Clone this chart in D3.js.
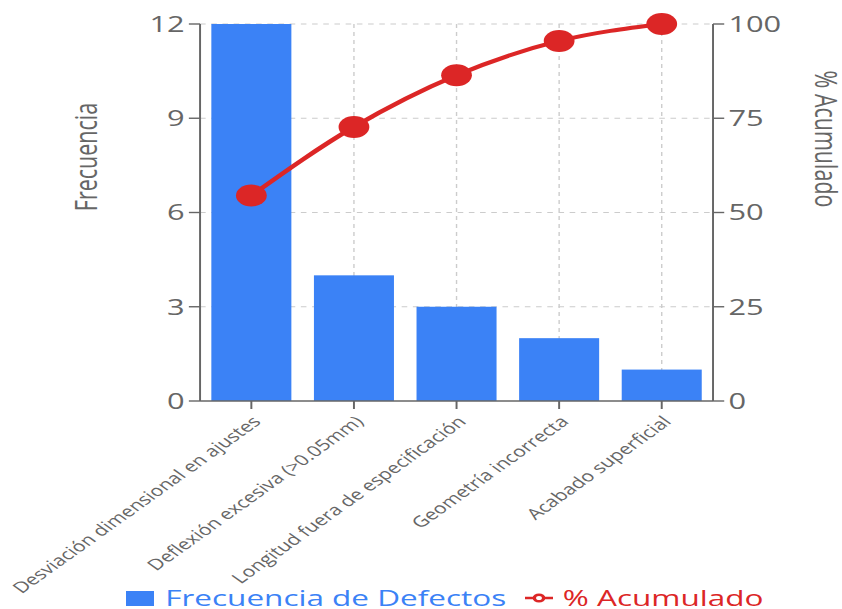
<!DOCTYPE html>
<html>
<head>
<meta charset="utf-8">
<script src="https://cdn.jsdelivr.net/npm/d3@7/dist/d3.min.js"></script>
<style>
  html, body { margin: 0; padding: 0; background: #fff; }
  svg { display: block; }
  text { font-family: "Open Sans", "Noto Sans", sans-serif; }
</style>
</head>
<body>
<svg id="chart" width="842" height="609"></svg>
<script>
// Pareto data: defect categories, their counts and the cumulative share
const categories = [
  "Desviación dimensional en ajustes",
  "Deflexión excesiva (>0.05mm)",
  "Longitud fuera de especificación",
  "Geometría incorrecta",
  "Acabado superficial"
];
const frequencies = [12, 4, 3, 2, 1];
const cumulativePct = [54.5, 72.7, 86.4, 95.5, 100];
const freqTicks = [0, 3, 6, 9, 12];
const pctTicks = [0, 25, 50, 75, 100];
const seriesNames = ["Frecuencia de Defectos", "% Acumulado"];

(function draw() {
  const BLUE = "#3b82f6", RED = "#dc2626", AXIS = "#666", GRID = "#ccc";
  const SX = 1.4; // horizontal stretch of the drawing

  const svg = d3.select("#chart");
  const root = svg.append("g").attr("transform", `scale(${SX},1)`);

  const pLeft = 142.9, pRight = 509.3, pTop = 24, pBottom = 401;

  const x = d3.scaleBand().domain(categories).range([pLeft, pRight])
    .paddingInner(0.22).paddingOuter(0.11);
  const yL = d3.scaleLinear().domain([0, 12]).range([pBottom, pTop]);
  const yR = d3.scaleLinear().domain([0, 100]).range([pBottom, pTop]);
  const cx = c => x(c) + x.bandwidth() / 2;

  // grid
  const grid = root.append("g").attr("stroke", GRID).attr("stroke-dasharray", "4 4").attr("fill", "none");
  grid.selectAll("line.h").data(freqTicks.slice(1)).join("line").attr("class", "h")
    .attr("x1", pLeft).attr("x2", pRight).attr("y1", d => yL(d)).attr("y2", d => yL(d));
  grid.selectAll("line.v").data(categories).join("line").attr("class", "v")
    .attr("x1", cx).attr("x2", cx).attr("y1", pTop).attr("y2", pBottom);

  // bars
  root.append("g").selectAll("rect").data(categories).join("rect")
    .attr("x", d => x(d)).attr("width", x.bandwidth())
    .attr("y", (d, i) => yL(frequencies[i]))
    .attr("height", (d, i) => pBottom - yL(frequencies[i]))
    .attr("fill", BLUE);

  // axes
  const axG = root.append("g").attr("stroke", AXIS).attr("stroke-width", 1.4);
  axG.append("line").attr("x1", pLeft).attr("x2", pLeft).attr("y1", pTop).attr("y2", pBottom);
  axG.append("line").attr("x1", pRight).attr("x2", pRight).attr("y1", pTop).attr("y2", pBottom);
  axG.append("line").attr("x1", pLeft).attr("x2", pRight).attr("y1", pBottom).attr("y2", pBottom);
  axG.selectAll("line.tl").data(freqTicks).join("line").attr("class", "tl")
    .attr("x1", pLeft - 8).attr("x2", pLeft).attr("y1", d => yL(d)).attr("y2", d => yL(d));
  axG.selectAll("line.tr").data(pctTicks).join("line").attr("class", "tr")
    .attr("x1", pRight).attr("x2", pRight + 8).attr("y1", d => yR(d)).attr("y2", d => yR(d));
  axG.selectAll("line.tb").data(categories).join("line").attr("class", "tb")
    .attr("x1", cx).attr("x2", cx).attr("y1", pBottom).attr("y2", pBottom + 8);

  root.append("g").selectAll("text").data(freqTicks).join("text")
    .attr("x", pLeft - 11).attr("y", d => yL(d)).attr("dy", "0.36em")
    .attr("text-anchor", "end").attr("fill", AXIS).attr("font-size", 22).text(d => d);
  root.append("g").selectAll("text").data(pctTicks).join("text")
    .attr("x", pRight + 11).attr("y", d => yR(d)).attr("dy", "0.36em")
    .attr("text-anchor", "start").attr("fill", AXIS).attr("font-size", 22).text(d => d);

  const xl = 415;
  root.append("g").selectAll("text").data(categories).join("text")
    .attr("x", cx).attr("y", xl).attr("dy", "0.71em")
    .attr("transform", d => `rotate(-45,${cx(d)},${xl})`)
    .attr("text-anchor", "end").attr("fill", AXIS).attr("font-size", 15.2).text(d => d);

  // axis titles
  root.append("text").attr("transform", "translate(69,157) rotate(-90)")
    .attr("text-anchor", "middle").attr("fill", AXIS).attr("font-size", 21.5).text("Frecuencia");
  root.append("text").attr("transform", "translate(582,139) rotate(90)")
    .attr("text-anchor", "middle").attr("fill", AXIS).attr("font-size", 21.5).text("% Acumulado");

  // cumulative line
  const line = d3.line().x((d, i) => cx(categories[i])).y(d => yR(d)).curve(d3.curveMonotoneX);
  root.append("path").datum(cumulativePct).attr("d", line)
    .attr("fill", "none").attr("stroke", RED).attr("stroke-width", 4);
  root.append("g").selectAll("circle").data(cumulativePct).join("circle")
    .attr("cx", (d, i) => cx(categories[i])).attr("cy", d => yR(d)).attr("r", 11).attr("fill", RED);

  // legend
  const lg = root.append("g").attr("transform", "translate(90,588)");
  const item1 = lg.append("g");
  item1.append("rect").attr("x", 0).attr("y", 3).attr("width", 20).attr("height", 15).attr("fill", BLUE);
  item1.append("text").attr("x", 28).attr("y", 10).attr("dy", "0.36em")
    .attr("fill", BLUE).attr("font-size", 22.5).text(seriesNames[0]);
  const item2 = lg.append("g").attr("transform", "translate(285,0)");
  item2.append("path").attr("d", "M0,10h6.67A3.33,3.33 0 1,1 13.33,10H20M13.33,10A3.33,3.33 0 1,1 6.67,10")
    .attr("fill", "none").attr("stroke", RED).attr("stroke-width", 2.5);
  item2.append("text").attr("x", 27).attr("y", 10).attr("dy", "0.36em")
    .attr("fill", RED).attr("font-size", 22.5).text(seriesNames[1]);
})();
</script>
</body>
</html>
